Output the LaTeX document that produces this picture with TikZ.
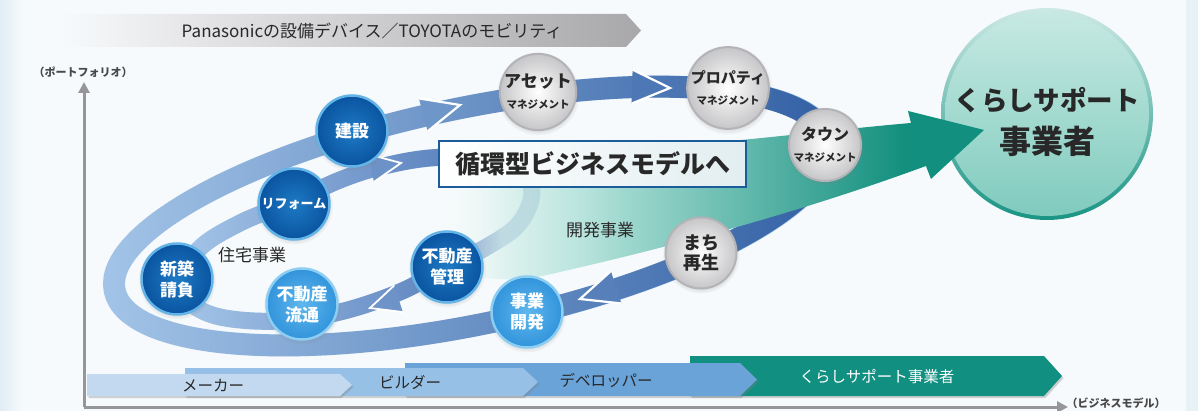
\documentclass[tikz,border=0pt]{standalone}
\usepackage{fontspec}
\setmainfont{Noto Sans CJK JP}
\newfontfamily\jp{Noto Sans CJK JP}
\usetikzlibrary{fadings,shadows,arrows.meta}
\definecolor{bg}{RGB}{247,250,252}
\definecolor{edgeL}{RGB}{224,237,242}
\definecolor{edgeR}{RGB}{232,241,245}
\definecolor{txt}{RGB}{40,40,40}
\definecolor{axisc}{RGB}{150,150,152}
\definecolor{bnM}{RGB}{232,232,234}
\definecolor{bnR}{RGB}{168,168,170}
\definecolor{bandL}{RGB}{165,198,233}
\definecolor{bandR}{RGB}{48,94,163}
\definecolor{ibandL}{RGB}{168,200,234}
\definecolor{ibandR}{RGB}{70,110,178}
\definecolor{tealL}{RGB}{180,227,219}
\definecolor{tealD}{RGB}{18,143,126}
\definecolor{boxBlue}{RGB}{27,92,155}
\definecolor{boxR}{RGB}{226,238,240}
\definecolor{bIn}{RGB}{30,122,196}
\definecolor{bOut}{RGB}{10,84,160}
\definecolor{bRim}{RGB}{100,180,232}
\definecolor{lIn}{RGB}{95,183,236}
\definecolor{lOut}{RGB}{50,148,220}
\definecolor{lRim}{RGB}{140,205,242}
\definecolor{gOut}{RGB}{198,198,200}
\definecolor{gRim}{RGB}{180,180,184}
\definecolor{bigT}{RGB}{198,233,226}
\definecolor{bigB}{RGB}{128,203,190}
\definecolor{rimT}{RGB}{205,233,228}
\definecolor{rimB}{RGB}{25,148,132}
\definecolor{stM}{RGB}{194,217,240}
\definecolor{stB}{RGB}{150,192,230}
\definecolor{stD}{RGB}{106,163,216}
\definecolor{stK}{RGB}{17,143,128}
\colorlet{cA1}{bandR!46!bandL}
\colorlet{cA2}{bandR!75!bandL}
\colorlet{cA3}{bandR!67!bandL}
\colorlet{cB1}{ibandR!60!ibandL}
\colorlet{cB2}{ibandR!59!ibandL}
\pgfdeclarehorizontalshading{tealsh}{100bp}{color(0bp)=(white); color(25bp)=(white); color(39bp)=(tealL); color(68bp)=(tealD); color(100bp)=(tealD)}
\pgfdeclarehorizontalshading{bannersh}{100bp}{color(0bp)=(bg); color(25bp)=(bg); color(35bp)=(bnM); color(75bp)=(bnR); color(100bp)=(bnR)}
\pgfdeclarehorizontalshading{tealfadesh}{100bp}{color(0bp)=(black); color(25bp)=(black); color(32bp)=(white!82!black); color(43bp)=(white); color(100bp)=(white)}
\tikzfading[name=tealfade, shading=tealfadesh]
\tikzfading[name=bandfade, left color=transparent!100, right color=transparent!0]
\begin{document}
\begin{tikzpicture}[x=1pt,y=-1pt,
  bc/.style={circle, minimum size=71pt, inner sep=0pt, draw=bRim, line width=2.5pt, inner color=bIn, outer color=bOut, text=white, align=center, font=\jp\bfseries\fontsize{17}{21}\selectfont, circular drop shadow={shadow xshift=0pt, shadow yshift=-1.5pt, opacity=0.25}},
  lc/.style={bc, draw=lRim, inner color=lIn, outer color=lOut},
  gc/.style={bc, draw=gRim, inner color=white, outer color=gOut, text=txt, line width=2pt},
  lbl/.style={font=\jp\fontsize{17}{20}\selectfont, text=txt, inner sep=0pt},
  stairtxt/.style={font=\jp\fontsize{15.5}{18}\selectfont, text=txt, inner sep=0pt},
  axislbl/.style={font=\jp\bfseries\fontsize{11}{13}\selectfont, text=txt!85, inner sep=0pt},
  axisline/.style={draw=axisc, line width=3pt, -{Triangle[width=11pt,length=11pt]}},
  pics/ahb/.style={code={\fill[#1] (0,0) -- (-38,-17) -- (-38,17) -- cycle; \draw[white, line width=2.2pt, line join=miter] (-38,-17) -- (0,0) -- (-38,17);}},
  pics/ahs/.style={code={\fill[#1] (0,0) -- (-30,-14) -- (-30,14) -- cycle; \draw[white, line width=1.8pt, line join=miter] (-30,-14) -- (0,0) -- (-30,14);}},
]
\useasboundingbox (0,0) rectangle (1198,411);
% background
\fill[bg] (0,0) rectangle (1198,411);
\shade[left color=edgeL, right color=bg] (0,0) rectangle (22,411);
\fill[edgeR] (1186,0) rectangle (1198,411);

% banner
\shade[shading=bannersh] (60,14) -- (626,14) -- (641,30.5) -- (626,47) -- (60,47) -- cycle;
\node[font=\jp\fontsize{17}{19}\selectfont, text=txt, inner sep=0pt] (banner) at (372,31) {Panasonicの設備デバイス／TOYOTAのモビリティ};

% axes
\coordinate (o) at (84,407);
\coordinate (ytop) at (84,82);
\coordinate (xend) at (1068,407);
\draw[axisline] (o) -- (ytop);
\draw[axisline] (o) -- (xend);
\node[axislbl] (ylab) at (83,72) {（ポートフォリオ）};
\node[axislbl] (xlab) at (1116,403) {（ビジネスモデル）};

% outer loop
\begin{scope}[rotate around={11.8:(472,216)}]
\draw[line width=22pt, bandL] (472,216) ellipse[x radius=365, y radius=108];
\draw[line width=22pt, bandR, path fading=bandfade] (472,216) ellipse[x radius=365, y radius=108];
\end{scope}
\pic[rotate=15] at (460,105) {ahb=cA1};
\pic[rotate=-2] at (670,88) {ahb=cA2};
\pic[rotate=198] at (580,299) {ahb=cA3};

% inner loop
\def\innerloop{plot[smooth cycle, tension=0.6] coordinates {(180,287) (198,250) (240,223) (294,201) (340,180) (380,167) (430,158) (485,158) (522,172) (532,195) (518,225) (485,248) (445,268) (400,292) (340,312) (280,321) (225,318) (194,306)}}
\draw[line width=17pt, ibandL] \innerloop;
\draw[line width=17pt, ibandR, path fading=bandfade] \innerloop;
\pic[rotate=10] at (401,163) {ahs=cB1};
\pic[rotate=198] at (370,308) {ahs=cB2};

% big circle
\shade[top color=rimT, bottom color=rimB] (1047,114) circle[radius=106];
\node[circle, minimum size=204pt, inner sep=0pt, top color=bigT, bottom color=bigB] (big) at (1047,114) {};
\node[font=\jp\bfseries\fontsize{26.5}{43}\selectfont, text=txt, align=center, inner sep=0pt] (bigtext) at (1047,122) {くらしサポート\\{\fontsize{32}{43}\selectfont 事業者}};

% teal arrow
\shade[shading=tealsh, path fading=tealfade] (984,130) -- (908,111) -- (911,123) .. controls (830,130) and (740,142) .. (620,150) .. controls (490,162) and (425,200) .. (432,240) .. controls (440,278) and (500,288) .. (560,272) .. controls (700,240) and (820,205) .. (926,166) -- (931,179) -- cycle;

% box
\node[draw=boxBlue, line width=2.5pt, minimum width=307pt, minimum height=46pt, inner sep=0pt, left color=white, right color=boxR, font=\jp\bfseries\fontsize{25}{30}\selectfont, text=txt] (box) at (592.5,164) {循環型ビジネスモデルへ};

% circles
\node[bc] (kensetsu) at (352,131) {建設};
\node[bc, font=\jp\bfseries\fontsize{13}{15}\selectfont] (reform) at (294,204) {リフォーム};
\node[bc] (shinchiku) at (177,279) {新築\\請負};
\node[bc] (kanri) at (447,267) {不動産\\管理};
\node[lc] (ryutsu) at (302,304) {不動産\\流通};
\node[lc] (jigyo) at (527,312) {事業\\開発};
\node[gc] (asset) at (538,92) {\fontsize{17}{16}\selectfont アセット\\\fontsize{10.5}{14}\selectfont マネジメント};
\node[gc] (property) at (728,88) {\fontsize{15}{16}\selectfont プロパティ\\\fontsize{10.5}{14}\selectfont マネジメント};
\node[gc] (town) at (825,145) {\fontsize{16}{17}\selectfont タウン\\\fontsize{10.5}{15}\selectfont マネジメント};
\node[gc, font=\jp\bfseries\fontsize{18}{20}\selectfont] (machi) at (701,253) {まち\\再生};

% labels
\node[lbl] (jutaku) at (252,255) {住宅事業};
\node[lbl] (kaihatsu) at (600,230) {開発事業};

% stair bands
\tikzset{stshadow/.style={drop shadow={shadow xshift=1.5pt, shadow yshift=-2pt, opacity=0.35}}}
\fill[stK, stshadow] (690,356) -- (1044,356) -- (1062,376) -- (1044,396) -- (690,396) -- cycle;
\fill[stD, stshadow] (405,363) -- (740,363) -- (757,379.5) -- (740,396) -- (405,396) -- cycle;
\fill[stB, stshadow] (185,368) -- (523,368) -- (538,382) -- (523,396) -- (185,396) -- cycle;
\fill[stM, stshadow] (87,374) -- (340,374) -- (352,385) -- (340,396) -- (87,396) -- cycle;
\node[stairtxt] (maker) at (213,386) {メーカー};
\node[stairtxt] (builder) at (410,382) {ビルダー};
\node[stairtxt] (dev) at (606,380) {デベロッパー};
\node[stairtxt, text=white] (kurashi) at (877,377) {くらしサポート事業者};
\end{tikzpicture}
\end{document}
